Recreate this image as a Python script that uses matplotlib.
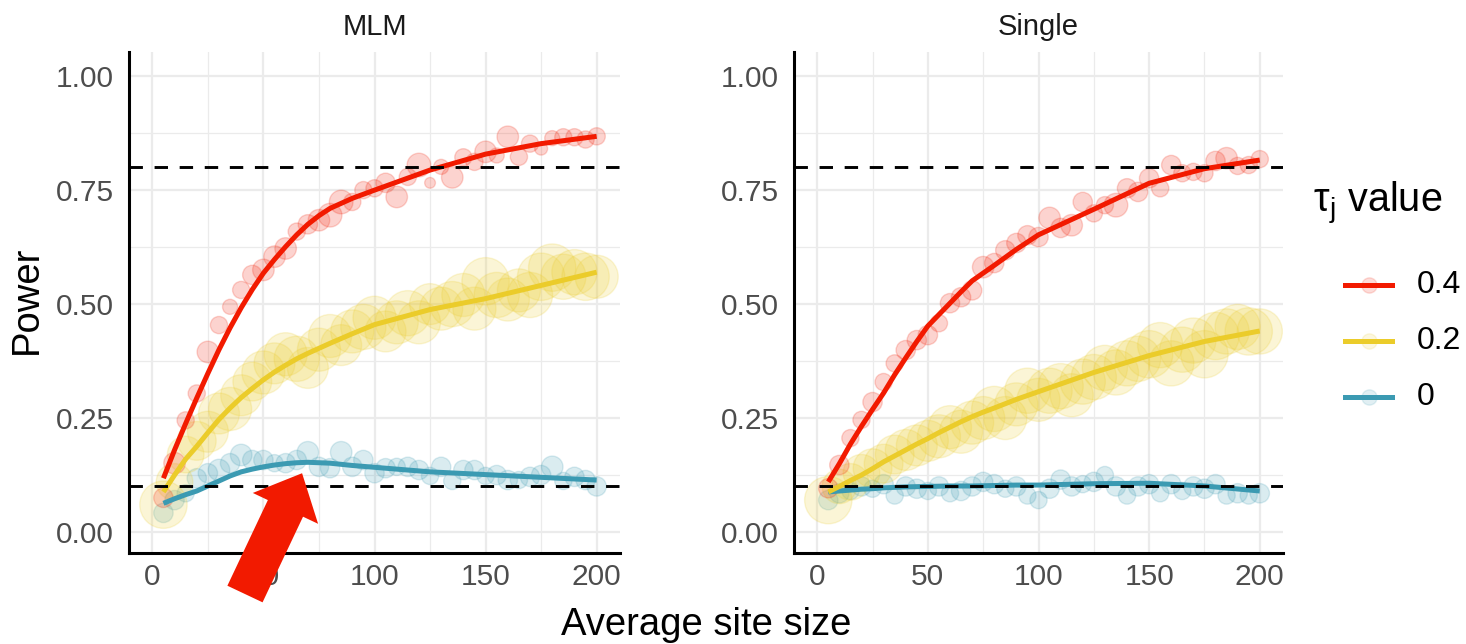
import matplotlib
matplotlib.use("Agg")
import matplotlib.pyplot as plt
from matplotlib.lines import Line2D

plt.rcParams['font.family'] = ['Liberation Sans', 'DejaVu Sans']
plt.rcParams['mathtext.fontset'] = 'dejavusans'

# simulated power by average site size, one row of points per tau_j value
site_size = list(range(5, 205, 5))
tau_levels = ["0.4", "0.2", "0"]
tau_colors = {"0.4": "#F21A00", "0.2": "#EBCC2A", "0": "#3B9AB2"}

mlm_power_04 = [0.075, 0.151, 0.245, 0.304, 0.395, 0.454, 0.494, 0.531, 0.564, 0.575,
                0.604, 0.622, 0.659, 0.675, 0.684, 0.695, 0.724, 0.724, 0.750, 0.754,
                0.766, 0.735, 0.779, 0.805, 0.766, 0.801, 0.778, 0.822, 0.812, 0.834,
                0.826, 0.867, 0.823, 0.852, 0.841, 0.864, 0.866, 0.866, 0.861, 0.868]
mlm_power_02 = [0.06, 0.11, 0.17, 0.20, 0.22, 0.26, 0.27, 0.30, 0.33, 0.35,
                0.37, 0.39, 0.38, 0.36, 0.40, 0.43, 0.41, 0.44, 0.45, 0.47,
                0.44, 0.46, 0.48, 0.46, 0.50, 0.49, 0.50, 0.52, 0.49, 0.55,
                0.52, 0.51, 0.53, 0.52, 0.56, 0.58, 0.56, 0.57, 0.56, 0.56]
mlm_power_0 = [0.042, 0.070, 0.085, 0.118, 0.129, 0.136, 0.151, 0.169, 0.158, 0.158,
               0.151, 0.151, 0.158, 0.175, 0.143, 0.140, 0.175, 0.143, 0.158, 0.129,
               0.140, 0.143, 0.143, 0.136, 0.123, 0.143, 0.112, 0.136, 0.136, 0.123,
               0.125, 0.114, 0.114, 0.121, 0.125, 0.143, 0.112, 0.121, 0.114, 0.100]

single_power_04 = [0.096, 0.147, 0.206, 0.246, 0.285, 0.329, 0.370, 0.399, 0.421, 0.432,
                   0.458, 0.502, 0.515, 0.530, 0.581, 0.590, 0.618, 0.634, 0.651, 0.647,
                   0.689, 0.667, 0.673, 0.724, 0.699, 0.717, 0.717, 0.754, 0.746, 0.776,
                   0.754, 0.805, 0.787, 0.790, 0.787, 0.814, 0.820, 0.803, 0.805, 0.818]
single_power_02 = [0.07, 0.10, 0.11, 0.13, 0.14, 0.15, 0.17, 0.18, 0.19, 0.20,
                   0.21, 0.23, 0.22, 0.24, 0.25, 0.27, 0.25, 0.28, 0.31, 0.29,
                   0.31, 0.32, 0.30, 0.33, 0.34, 0.36, 0.35, 0.37, 0.38, 0.39,
                   0.41, 0.37, 0.40, 0.42, 0.39, 0.43, 0.44, 0.45, 0.44, 0.44]
single_power_0 = [0.070, 0.085, 0.090, 0.100, 0.095, 0.105, 0.080, 0.100, 0.095, 0.090,
                  0.100, 0.085, 0.090, 0.100, 0.110, 0.105, 0.095, 0.100, 0.080, 0.070,
                  0.095, 0.115, 0.100, 0.105, 0.110, 0.125, 0.100, 0.080, 0.100, 0.105,
                  0.085, 0.105, 0.090, 0.100, 0.095, 0.105, 0.080, 0.085, 0.080, 0.085]

# point size aesthetic (mc standard error scale)
mlm_se_04 = [9, 10, 8, 8, 10, 8, 7, 8, 9, 10, 10, 10, 8, 9, 10, 11, 11, 8, 8, 8,
             9, 10, 8, 11, 5, 7, 10, 8, 8, 10, 7, 10, 8, 8, 6, 7, 8, 8, 8, 8]
mlm_se_02 = [22, 17, 17, 18, 19, 19, 20, 19, 18, 20, 19, 20, 21, 19, 20, 20, 19, 20, 21, 20,
             19, 20, 21, 20, 19, 20, 21, 20, 20, 22, 21, 20, 20, 21, 22, 22, 21, 21, 22, 20]
mlm_se_0 = [9, 9, 8, 9, 9, 10, 9, 10, 9, 9, 8, 9, 9, 10, 9, 9, 10, 9, 9, 9,
            9, 8, 9, 9, 8, 9, 8, 9, 9, 8, 9, 9, 8, 9, 9, 10, 8, 9, 9, 9]
single_se_04 = [9, 9, 8, 8, 9, 8, 8, 9, 9, 9, 8, 9, 9, 9, 10, 9, 9, 9, 9, 9,
                10, 9, 10, 9, 8, 8, 11, 9, 9, 9, 8, 9, 8, 8, 8, 9, 10, 8, 8, 8]
single_se_02 = [22, 16, 17, 17, 18, 18, 18, 19, 19, 19, 20, 20, 20, 20, 20, 21, 20, 20, 21, 20,
                21, 21, 20, 21, 21, 21, 21, 21, 21, 22, 21, 21, 21, 21, 22, 22, 21, 21, 22, 21]
single_se_0 = [9, 9, 8, 9, 8, 9, 8, 9, 9, 8, 9, 8, 9, 9, 9, 9, 8, 9, 8, 8,
               9, 9, 9, 8, 9, 8, 9, 8, 9, 9, 8, 9, 8, 9, 9, 9, 8, 9, 8, 9]

# smoothed power curves
fit_x = [5, 10, 15, 20, 25, 30, 35, 40, 45, 50, 55, 60, 65, 70, 75, 80, 90, 100,
         125, 150, 175, 200]
mlm_fit_04 = [0.118, 0.180, 0.238, 0.294, 0.348, 0.400, 0.448, 0.492, 0.532, 0.568,
              0.598, 0.626, 0.652, 0.675, 0.694, 0.710, 0.732, 0.750, 0.794, 0.829,
              0.852, 0.868]
mlm_fit_02 = [0.088, 0.125, 0.160, 0.188, 0.218, 0.247, 0.272, 0.295, 0.315, 0.334,
              0.351, 0.366, 0.380, 0.392, 0.403, 0.414, 0.435, 0.455, 0.488, 0.512,
              0.541, 0.570]
mlm_fit_0 = [0.063, 0.073, 0.082, 0.090, 0.101, 0.112, 0.123, 0.132, 0.138, 0.143,
             0.147, 0.150, 0.152, 0.153, 0.152, 0.151, 0.146, 0.142, 0.132, 0.126,
             0.120, 0.114]
single_fit_04 = [0.110, 0.150, 0.193, 0.232, 0.269, 0.305, 0.345, 0.382, 0.418, 0.452,
                 0.477, 0.502, 0.527, 0.551, 0.568, 0.585, 0.620, 0.652, 0.708, 0.765,
                 0.797, 0.816]
single_fit_02 = [0.088, 0.100, 0.113, 0.125, 0.139, 0.154, 0.167, 0.180, 0.193, 0.205,
                 0.218, 0.230, 0.242, 0.253, 0.263, 0.272, 0.291, 0.308, 0.350, 0.387,
                 0.418, 0.441]
single_fit_0 = [0.088, 0.090, 0.092, 0.094, 0.095, 0.097, 0.098, 0.099, 0.0995, 0.100,
                0.1005, 0.101, 0.101, 0.101, 0.1015, 0.102, 0.103, 0.103, 0.106, 0.107,
                0.101, 0.090]

power_targets = [0.8, 0.1]
x_ticks = [0, 50, 100, 150, 200]
y_ticks = [0.0, 0.25, 0.5, 0.75, 1.0]
y_labels = ["0.00", "0.25", "0.50", "0.75", "1.00"]

panels = {
    "MLM": ({"0.4": mlm_power_04, "0.2": mlm_power_02, "0": mlm_power_0},
            {"0.4": mlm_se_04, "0.2": mlm_se_02, "0": mlm_se_0},
            {"0.4": mlm_fit_04, "0.2": mlm_fit_02, "0": mlm_fit_0}),
    "Single": ({"0.4": single_power_04, "0.2": single_power_02, "0": single_power_0},
               {"0.4": single_se_04, "0.2": single_se_02, "0": single_se_0},
               {"0.4": single_fit_04, "0.2": single_fit_02, "0": single_fit_0}),
}

W, H = 1466, 644
fig = plt.figure(figsize=(W / 100, H / 100), dpi=100)
ax1 = fig.add_axes([129 / W, 1 - 553 / H, 491 / W, 501 / H])
ax2 = fig.add_axes([794 / W, 1 - 553 / H, 489 / W, 501 / H])


def style_axis(ax):
    ax.set_xlim(-10.5, 210.5)
    ax.set_ylim(-0.046, 1.053)
    ax.set_xticks(x_ticks)
    ax.set_xticks([25, 75, 125, 175], minor=True)
    ax.set_yticks(y_ticks)
    ax.set_yticks([0.125, 0.375, 0.625, 0.875], minor=True)
    ax.set_yticklabels(y_labels)
    ax.grid(which="major", color="#EBEBEB", lw=1.6, zorder=0)
    ax.grid(which="minor", color="#EBEBEB", lw=0.9, zorder=0)
    ax.set_axisbelow(True)
    for side in ["top", "right"]:
        ax.spines[side].set_visible(False)
    for side in ["left", "bottom"]:
        ax.spines[side].set_linewidth(2.2)
        ax.spines[side].set_color("black")
    ax.tick_params(which="both", length=0, labelsize=21.5, labelcolor="#4D4D4D")
    ax.tick_params(axis="y", pad=11)
    ax.tick_params(axis="x", pad=7)


for ax, (name, (power, se, fits)) in zip([ax1, ax2], panels.items()):
    style_axis(ax)
    for lev in ["0", "0.2", "0.4"]:
        sizes = [(1.55 * r) ** 2 for r in se[lev]]
        ax.scatter(site_size, power[lev], s=sizes, color=tau_colors[lev], alpha=0.19,
                   edgecolors=tau_colors[lev], linewidths=1.0, zorder=2)
    for lev in ["0", "0.2", "0.4"]:
        ax.plot(fit_x, fits[lev], color=tau_colors[lev], lw=3.6, zorder=3,
                solid_capstyle="butt", solid_joinstyle="round")
    for target in power_targets:
        ax.axhline(target, color="black", lw=2.1, dashes=(4.6, 4.0), zorder=4)
    ax.set_title(name, fontsize=21, pad=12, color="#1A1A1A")

# arrow pointing at the peak of the null curve
ax1.annotate("", xy=(67.4, 0.129), xytext=(41.7, -0.136),
             arrowprops=dict(arrowstyle="simple,head_length=2.8,head_width=5.2,tail_width=2.8",
                             mutation_scale=10, fc="#F21A00", ec="none",
                             shrinkA=0, shrinkB=0),
             annotation_clip=False, zorder=10)

fig.text(706 / W, 1 - 625 / H, "Average site size", ha="center", va="center", fontsize=27.5)
fig.text(27 / W, 1 - 300 / H, "Power", rotation=90, ha="center", va="center", fontsize=27.5)

# legend
fig.text(1313 / W, 1 - 204 / H, r"τ$_\mathregular{j}$ value", ha="left", va="center",
         fontsize=28.5)
for i, lev in enumerate(tau_levels):
    y = 1 - (285 + 56 * i) / H
    c = tau_colors[lev]
    fig.add_artist(Line2D([1345 / W, 1392 / W], [y, y], color=c, lw=3.6,
                          transform=fig.transFigure))
    fig.add_artist(Line2D([1368.5 / W], [y], marker="o", ms=11, color=c, alpha=0.15,
                          lw=0, transform=fig.transFigure))
    fig.text(1417 / W, y, lev, ha="left", va="center", fontsize=23)

fig.savefig("out.png", dpi=100)
